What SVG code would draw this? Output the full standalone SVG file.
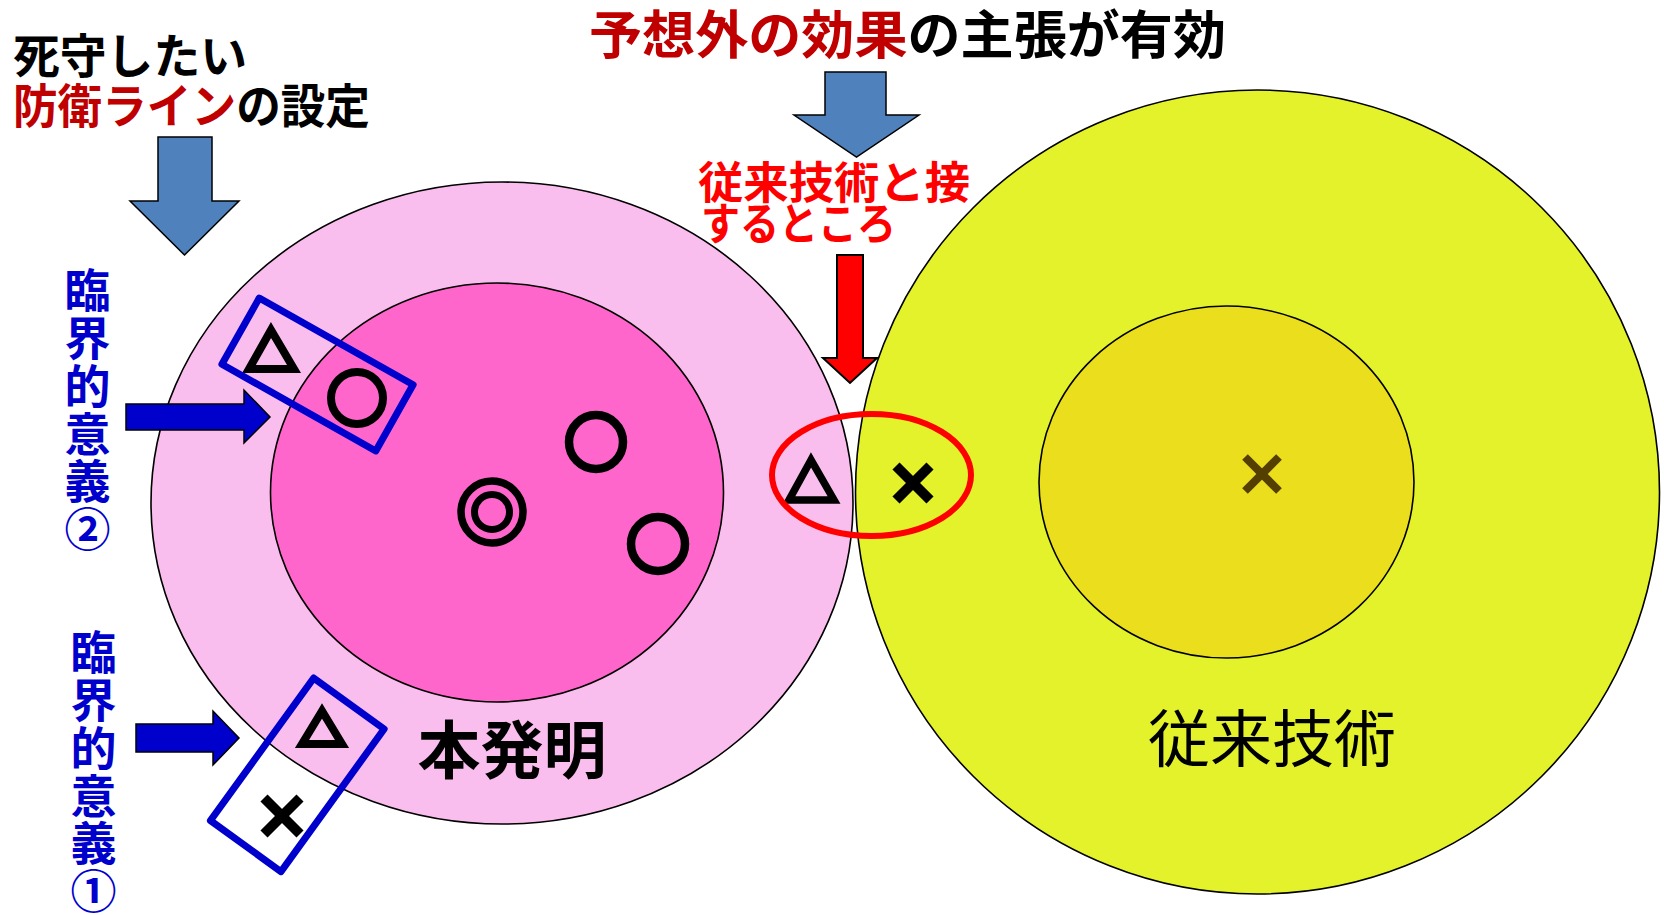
<svg xmlns="http://www.w3.org/2000/svg" width="1664" height="915" viewBox="0 0 1664 915">
<style>
.t{font-family:"Noto Sans CJK JP","Noto Sans CJK SC",sans-serif;font-weight:700}
.tr{font-family:"Noto Sans CJK JP","Noto Sans CJK SC",sans-serif;font-weight:400}
.vt{writing-mode:vertical-rl;letter-spacing:1.7px}
.dr{fill:#C00000}.bk{fill:#000}.rd{fill:#FF0000}.bl{fill:#0000CC}
.ring{stroke:#000;stroke-width:1.6}
.sym{fill:none;stroke:#000;stroke-width:8}
.tri{fill:none;stroke:#000;stroke-width:8;stroke-linejoin:miter}
.crs{stroke:#000;stroke-width:10;stroke-linecap:butt}
.box{fill:none;stroke:#0000CC;stroke-width:7;stroke-linejoin:round}
.bigarrow{fill:#4F81BD;stroke:#000;stroke-width:1.5}
.bluearrow{fill:#0000CC;stroke:#000;stroke-width:1.5}
.redarrow{fill:#FF0000;stroke:#000;stroke-width:2}
</style>
<rect width="1664" height="915" fill="#fff"/>

<g id="invention">
  <ellipse cx="502" cy="503" rx="351" ry="321" fill="#FABEEE" class="ring"/>
  <ellipse cx="497" cy="492.5" rx="226.5" ry="209.5" fill="#FF66CC" class="ring"/>
  <circle cx="596" cy="442" r="27" class="sym" style="stroke-width:8.5"/>
  <circle cx="658" cy="544" r="27" class="sym" style="stroke-width:8.5"/>
  <circle cx="492" cy="512" r="31" class="sym" style="stroke-width:7.5"/>
  <circle cx="492" cy="512" r="17.5" class="sym" style="stroke-width:7"/>
  <text x="512" y="773" class="t bk" font-size="63" text-anchor="middle">本発明</text>
</g>

<g id="prior-art">
  <circle cx="1257.5" cy="492" r="402" fill="#E3F22A" class="ring"/>
  <ellipse cx="1226.5" cy="482" rx="187.5" ry="176" fill="#EBDF1D" class="ring"/>
  <line x1="1245" y1="457" x2="1279" y2="491" class="crs" style="stroke:#553F00;stroke-width:8"/>
  <line x1="1279" y1="457" x2="1245" y2="491" class="crs" style="stroke:#553F00;stroke-width:8"/>
  <text x="1272" y="762" class="tr bk" font-size="62" text-anchor="middle">従来技術</text>
</g>

<g id="contact-zone">
  <polygon points="811,460 789,500 834,500" class="tri" style="stroke-width:7.5"/>
  <line x1="896" y1="466" x2="930" y2="500" class="crs"/>
  <line x1="930" y1="466" x2="896" y2="500" class="crs"/>
  <ellipse cx="871.5" cy="475" rx="99.5" ry="61" fill="none" stroke="#FF0000" stroke-width="6"/>
</g>

<g id="critical-2">
  <polygon points="271,330 249,369 294,369" class="tri"/>
  <circle cx="357" cy="398" r="26" class="sym"/>
  <rect x="-88.3" y="-38" width="176.6" height="76" class="box" transform="translate(317.5,374.5) rotate(29.4)"/>
  <text x="87.5" y="267" class="t bl vt" font-size="46">臨界的意義②</text>
</g>

<g id="critical-1">
  <polygon points="322,711 302,744 342,744" class="tri"/>
  <line x1="264" y1="798" x2="300" y2="834" class="crs"/>
  <line x1="300" y1="798" x2="264" y2="834" class="crs"/>
  <rect x="-43.5" y="-88" width="87" height="176" class="box" transform="translate(297.3,774.8) rotate(35.9)"/>
  <text x="93.5" y="629" class="t bl vt" font-size="46">臨界的意義①</text>
</g>

<g id="label-defense">
  <text class="t" font-size="47"><tspan x="13" y="73" class="bk" textLength="234" lengthAdjust="spacingAndGlyphs">死守したい</tspan><tspan x="13" y="123" textLength="357" lengthAdjust="spacingAndGlyphs"><tspan class="dr">防衛ライン</tspan><tspan class="bk">の設定</tspan></tspan></text>
</g>

<g id="label-effect">
  <text x="589" y="54" class="t" font-size="52" textLength="637" lengthAdjust="spacingAndGlyphs"><tspan class="dr">予想外の効果</tspan><tspan class="bk">の主張が有効</tspan></text>
</g>

<g id="label-contact">
  <text class="t rd" font-size="44"><tspan x="698" y="199" textLength="272" lengthAdjust="spacingAndGlyphs">従来技術と接</tspan><tspan x="701" y="240" textLength="195" lengthAdjust="spacingAndGlyphs">するところ</tspan></text>
</g>

<g id="connectors">
  <path d="M158,137 H212 V201 H239 L184.5,255 L130,201 H158 Z" class="bigarrow"/>
  <path d="M825,72 H886 V115 H919 L856.5,157 L794,115 H825 Z" class="bigarrow"/>
  <path d="M837,255 H863 V358 H877 L850,383 L823,358 H837 Z" class="redarrow"/>
  <path d="M126,404 H244 V390 L270,417 L244,443 V430 H126 Z" class="bluearrow"/>
  <path d="M136,724 H213 V711 L239,738 L213,765 V752 H136 Z" class="bluearrow"/>
</g>
</svg>
